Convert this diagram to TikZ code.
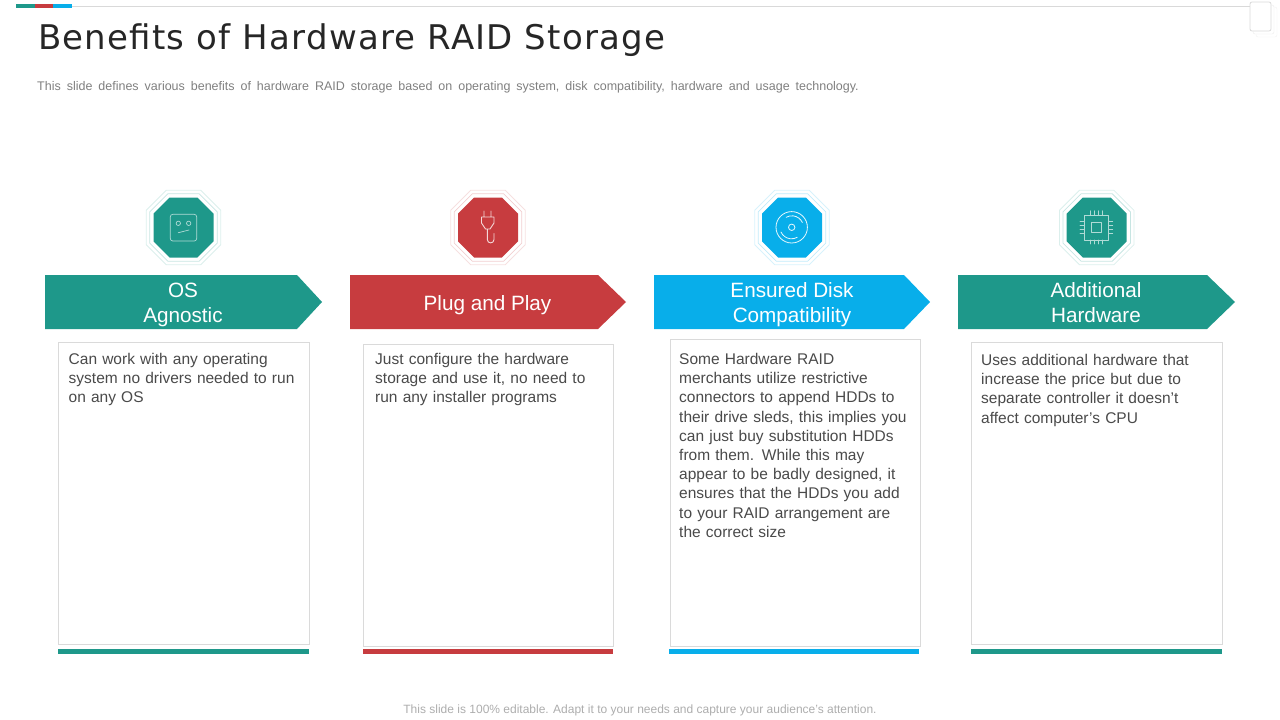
\documentclass[tikz,border=0pt]{standalone}
\usepackage{fontspec}
\setmainfont{Liberation Sans}
\newfontfamily\titlefont[LetterSpace=3.6]{DejaVu Sans}
\definecolor{cgreen}{HTML}{1E988A}
\definecolor{cred}{HTML}{C73C3F}
\definecolor{cblue}{HTML}{08AEEA}
\definecolor{gtext}{HTML}{4A4A4A}
\definecolor{lgtext}{HTML}{7F7F7F}
\definecolor{boxline}{HTML}{DADADA}
\newcommand{\octa}[4]{% cx cy r options
  \path[#4] ({#1+#3*0.46},{#2-#3}) -- ({#1+#3},{#2-#3*0.46}) -- ({#1+#3},{#2+#3*0.46}) -- ({#1+#3*0.46},{#2+#3}) -- ({#1-#3*0.46},{#2+#3}) -- ({#1-#3},{#2+#3*0.46}) -- ({#1-#3},{#2-#3*0.46}) -- ({#1-#3*0.46},{#2-#3}) -- cycle;}
\newcommand{\badge}[3]{% cx cy colour
  \octa{#1}{#2}{37.3}{draw=#3!16,line width=0.8pt}
  \octa{#1}{#2}{33.8}{draw=#3!25,line width=0.8pt}
  \octa{#1}{#2}{30}{fill=#3}}
\newcommand{\banner}[5]{% x y colour shoulder tip
  \fill[#3] (#1,#2) -- ({#1+#4},#2) -- ({#1+#5},{#2+27}) -- ({#1+#4},{#2+54}) -- (#1,{#2+54}) -- cycle;}
\tikzset{
  x=1pt,y=-1pt,
  head/.style={text=white,font=\fontsize{20.7}{25}\selectfont,align=center,anchor=center,inner sep=0pt},
  body/.style={text=gtext,font=\fontsize{15.5}{19.2}\selectfont,align=left,anchor=north west,inner sep=0pt,text width=#1},
  card/.style={draw=boxline,line width=0.9pt,fill=white},
  icon/.style={draw=white!65!#1,line width=0.7pt,line cap=round,line join=round},
  bar/.style={line width=5pt,draw=#1},
}
\begin{document}
\begin{tikzpicture}
\useasboundingbox (0,0) rectangle (1280,720);
% top rule and colour tabs
\draw[draw=black!15,line width=0.8pt] (72,6.2) -- (1250,6.2);
\draw[cgreen,line width=4.5pt] (16,6.2) -- (35,6.2);
\draw[cred,line width=4.5pt] (35,6.2) -- (53,6.2);
\draw[cblue,line width=4.5pt] (53,6.2) -- (72,6.2);
% page corner
\draw[draw=black!5,fill=white,rounded corners=2pt] (1256,7) rectangle (1277,37);
\draw[draw=black!8,fill=white,rounded corners=2pt] (1253,5) rectangle (1274,34);
\draw[draw=black!15,fill=white,rounded corners=2pt,line width=0.8pt] (1250,2) rectangle (1271,31);
% title
\node[anchor=west,inner sep=0pt,text=black!85,font=\titlefont\fontsize{34}{40}\selectfont] (title) at (38,40) {Benefits of Hardware RAID Storage};
\node[anchor=west,inner sep=0pt,text=lgtext,font=\fontsize{12.5}{14}\selectfont] (sub) at (37,87.5) {\spaceskip 5.95pt\relax This slide defines various benefits of hardware RAID storage based on operating system, disk compatibility, hardware and usage technology.};
% badges
\badge{183.5}{227.5}{cgreen}
\badge{488}{227.5}{cred}
\badge{792}{227.5}{cblue}
\badge{1096.7}{227.5}{cgreen}
% icon 1: face
\draw[icon=cgreen,rounded corners=2.5pt] (170.3,214.3) rectangle (196.7,241);
\draw[icon=cgreen] (178.3,223.3) circle (2.2);
\draw[icon=cgreen] (188.7,223.3) circle (2.2);
\draw[icon=cgreen] (178.3,232.7) -- (189,230);
% icon 2: plug
\draw[white!80!cred,line width=0.9pt,line cap=round,line join=round]
  (484,211) -- (484,217) (491,211) -- (491,217)
  (481.5,217) -- (494,217) -- (494,223) -- (490,229) -- (485.5,229) -- (481.5,223) -- cycle
  (487.3,229) -- (487.3,239.5) .. controls (487.3,244) and (494,244) .. (494,239.5) -- (494,233.5);
% icon 3: disc
\draw[white!90!cblue,line width=0.8pt] (791.7,227.3) circle (15.7);
\draw[white!90!cblue,line width=0.8pt] (791.7,227.3) circle (3.2);
\draw[white!90!cblue,line width=0.8pt,line cap=round] (781,232) arc (156:60:11.5);
\draw[white!90!cblue,line width=0.8pt,line cap=round] (802.4,222.6) arc (-24:-120:11.5);
% icon 4: chip
\draw[icon=cgreen] (1084.3,215.3) rectangle (1108.5,240);
\draw[icon=cgreen,line width=1pt] (1091,222.3) rectangle (1101.7,232.8);
\foreach \d in {-6,-2,2,6}{
  \draw[icon=cgreen] ({1096+\d},210.7) -- ({1096+\d},215.3);
  \draw[icon=cgreen] ({1096+\d},240) -- ({1096+\d},244);
  \draw[icon=cgreen] (1080,{227.5+\d}) -- (1084.3,{227.5+\d});
  \draw[icon=cgreen] (1108.5,{227.5+\d}) -- (1112.8,{227.5+\d});
}
% banners
\banner{45}{275}{cgreen}{252}{277}
\banner{350}{275}{cred}{248}{276}
\banner{654}{275}{cblue}{250}{276}
\banner{958}{275}{cgreen}{249}{277}
\node[head] (h1) at (183,304.5) {OS\\Agnostic};
\node[head] (h2) at (487.5,305) {Plug and Play};
\node[head] (h3) at (792,304.5) {Ensured Disk\\Compatibility};
\node[head] (h4) at (1096,303) {Additional\\Hardware};
% cards
\draw[card] (58.5,342) rectangle (309.5,644);
\draw[card] (363.5,344) rectangle (613.5,646);
\draw[card] (670.5,339) rectangle (920.5,646);
\draw[card] (971.5,342) rectangle (1222.5,644);
\draw[bar=cgreen] (58,651.5) -- (309,651.5);
\draw[bar=cred] (363,651.5) -- (613,651.5);
\draw[bar=cblue] (669,651.5) -- (919,651.5);
\draw[bar=cgreen] (971,651.5) -- (1222,651.5);
\node[body=235pt] (b1) at (68.5,353) {Can work with any operating\\system no drivers needed to run\\on any OS};
\node[body=230pt] (b2) at (375,353) {Just configure the hardware\\storage and use it, no need to\\run any installer programs};
\node[body=235pt] (b3) at (679,353) {Some Hardware RAID\\merchants utilize restrictive\\connectors to append HDDs to\\their drive sleds, this implies you\\can just buy substitution HDDs\\from them. While this may\\appear to be badly designed, it\\ensures that the HDDs you add\\to your RAID arrangement are\\the correct size};
\node[body=235pt] (b4) at (981,354) {Uses additional hardware that\\increase the price but due to\\separate controller it doesn’t\\affect computer’s CPU};
% footer
\node[inner sep=0pt,text=black!32,font=\fontsize{12}{14}\selectfont] (foot) at (640,710) {This slide is 100\% editable. Adapt it to your needs and capture your audience's attention.};
\end{tikzpicture}
\end{document}
